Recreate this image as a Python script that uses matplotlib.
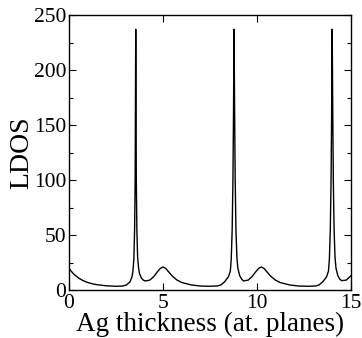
import matplotlib
matplotlib.use("Agg")
import matplotlib.pyplot as plt
from matplotlib.ticker import MultipleLocator

# LDOS vs Ag thickness
thickness = [
    0.0, 0.25, 0.5, 0.75, 1.0, 1.25, 1.5, 2.0, 2.5, 2.85, 3.05, 3.25, 3.35,
    3.4, 3.45, 3.49, 3.52, 3.55, 3.58, 3.61, 3.65, 3.7, 3.75, 3.85, 3.95,
    4.05, 4.3, 4.5, 4.7, 4.85, 5.0, 5.15, 5.3, 5.5, 5.75, 6.0, 6.5, 7.0,
    7.5, 7.9, 8.08, 8.28, 8.48, 8.58, 8.63, 8.68, 8.72, 8.75, 8.78, 8.81,
    8.84, 8.88, 8.93, 8.98, 9.08, 9.18, 9.28, 9.53, 9.73, 9.93, 10.08,
    10.23, 10.38, 10.53, 10.73, 10.98, 11.23, 11.73, 12.23, 12.73, 13.13,
    13.3, 13.5, 13.7, 13.8, 13.85, 13.9, 13.94, 13.97, 14.0, 14.03, 14.06,
    14.1, 14.15, 14.2, 14.3, 14.4, 14.5, 14.75, 15.0,
]
ldos = [
    19.5, 14.5, 11.0, 8.5, 6.8, 5.6, 4.8, 3.8, 3.4, 3.6, 4.5, 7.5, 12.0,
    17.0, 28.0, 55.0, 100.0, 237.0, 100.0, 55.0, 30.0, 20.0, 15.0, 11.0,
    9.0, 8.2, 9.0, 12.0, 16.5, 19.5, 21.0, 19.5, 16.5, 12.5, 9.0, 6.8, 4.6,
    3.6, 3.4, 3.7, 4.6, 7.5, 12.0, 17.0, 28.0, 55.0, 100.0, 160.0, 237.0,
    160.0, 100.0, 55.0, 30.0, 20.0, 13.0, 10.0, 8.2, 9.0, 12.0, 16.5, 19.5,
    21.0, 19.5, 16.5, 12.5, 9.0, 6.8, 4.6, 3.6, 3.4, 3.7, 4.6, 7.5, 12.0,
    17.0, 28.0, 55.0, 100.0, 160.0, 237.0, 160.0, 100.0, 55.0, 30.0, 20.0,
    13.0, 10.0, 8.5, 9.0, 13.0,
]

plt.rcParams['font.family'] = ['Liberation Serif', 'DejaVu Serif']

fig = plt.figure(figsize=(3.62, 3.38), dpi=100)
ax = fig.add_axes([0.1906, 0.142, 0.779, 0.8136])
ax.plot(thickness, ldos, color='black', linewidth=1.0)

ax.set_xlim(0, 15)
ax.set_ylim(0, 250)
ax.xaxis.set_major_locator(MultipleLocator(5))
ax.yaxis.set_major_locator(MultipleLocator(50))
ax.yaxis.set_minor_locator(MultipleLocator(25))
ax.tick_params(which='both', direction='in', top=True, right=True,
               labelsize=15.5, width=0.8)
ax.tick_params(which='major', length=5)
ax.tick_params(axis='x', which='major', pad=3)
ax.tick_params(axis='y', which='major', pad=2)
ax.tick_params(which='minor', length=3)
for s in ax.spines.values():
    s.set_linewidth(1.0)

ax.set_xlabel('Ag thickness (at. planes)', fontsize=19.5, labelpad=-1)
ax.set_ylabel('LDOS', fontsize=20, labelpad=0)

fig.savefig('out.png', dpi=100)
